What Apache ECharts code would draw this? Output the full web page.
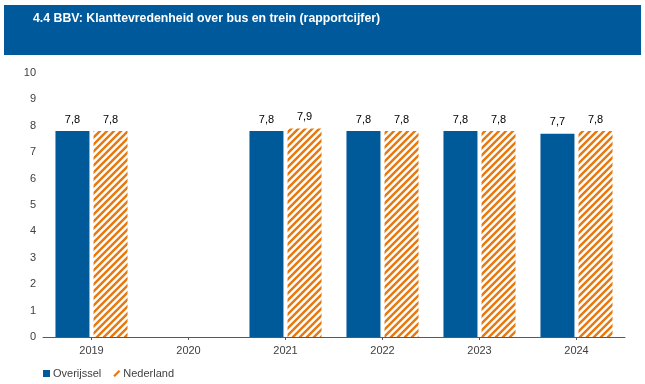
<!DOCTYPE html>
<html><head><meta charset="utf-8">
<script src="https://cdn.jsdelivr.net/npm/echarts@6/dist/echarts.min.js"></script>
<style>html,body{margin:0;padding:0;background:#fff}#c{width:645px;height:384px}</style>
</head><body><div id="c"></div>
<script>
const titleText = '4.4 BBV: Klanttevredenheid over bus en trein (rapportcijfer)';
const categories = ['2019', '2020', '2021', '2022', '2023', '2024'];
const overijssel = [7.8, null, 7.8, 7.8, 7.8, 7.7];
const nederland = [7.8, null, 7.9, 7.8, 7.8, 7.8];
const seriesNames = ['Overijssel', 'Nederland'];

const BLUE = '#005A9A';
const ORANGE = '#E8780E';

function makePattern() {
  const s = 7;
  const c = document.createElement('canvas');
  c.width = s; c.height = s;
  const g = c.getContext('2d');
  g.fillStyle = '#fff'; g.fillRect(0, 0, s, s);
  g.strokeStyle = ORANGE; g.lineWidth = 2.4;
  g.beginPath();
  g.moveTo(0, s); g.lineTo(s, 0);
  g.moveTo(-1, 1); g.lineTo(1, -1);
  g.moveTo(s - 1, s + 1); g.lineTo(s + 1, s - 1);
  g.stroke();
  return c;
}

const fmt = p => p.value == null ? '' : String(p.value.toFixed(1)).replace('.', ',');
const chart = echarts.init(document.getElementById('c'), null, {renderer: 'canvas'});
chart.setOption({
  animation: false,
  textStyle: {fontFamily: 'Liberation Sans, Arial, sans-serif'},
  graphic: [
    {type: 'rect', shape: {x: 4, y: 5, width: 637, height: 50}, style: {fill: '#00599A'}, z: 0},
    {type: 'text', left: 33, top: 13, style: {text: titleText, fill: '#fff', font: 'bold 12.3px "Liberation Sans", Arial, sans-serif'}}
  ],
  legend: {
    left: 38, top: 363, itemGap: 12, itemWidth: 7, itemHeight: 7,
    textStyle: {fontSize: 11, color: '#404040', padding: [0, 0, 0, -2]},
    data: [
      {name: seriesNames[0], icon: 'rect', itemStyle: {color: BLUE}},
      {name: seriesNames[1], icon: 'path://M7,0 L9,2 L2,9 L0,7 Z', itemStyle: {color: ORANGE}}
    ]
  },
  grid: {left: 43, right: 20, top: 73, bottom: 47},
  xAxis: {
    type: 'category', data: categories,
    axisLine: {lineStyle: {color: '#595959', width: 1}},
    axisTick: {show: true, alignWithLabel: true, length: 3, lineStyle: {color: '#595959'}},
    axisLabel: {color: '#404040', fontSize: 11, margin: 8}
  },
  yAxis: {
    type: 'value', min: 0, max: 10, interval: 1,
    axisLine: {show: false}, axisTick: {show: false},
    splitLine: {show: false},
    axisLabel: {color: '#404040', fontSize: 11, margin: 7}
  },
  series: [
    {name: seriesNames[0], type: 'bar', data: overijssel, barWidth: 34, barGap: '12%',
     itemStyle: {color: BLUE},
     label: {show: true, position: 'top', distance: 6, color: '#000', fontSize: 11, formatter: fmt}},
    {name: seriesNames[1], type: 'bar', data: nederland, barWidth: 34,
     itemStyle: {color: {image: makePattern(), repeat: 'repeat'}},
     label: {show: true, position: 'top', distance: 6, color: '#000', fontSize: 11, formatter: fmt}}
  ]
});
</script></body></html>
